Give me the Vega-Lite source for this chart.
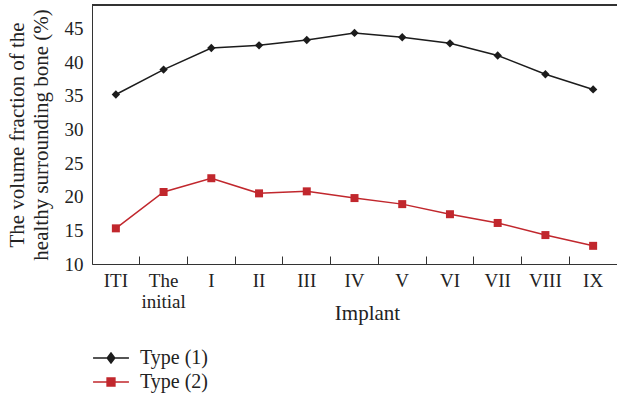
{
  "$schema": "https://vega.github.io/schema/vega-lite/v6.json",
  "width": 525,
  "height": 259,
  "autosize": {"type": "none"},
  "padding": {"left": 92, "top": 5, "right": 0, "bottom": 136},
  "background": "white",
  "config": {
    "view": {"stroke": null},
    "font": "Liberation Serif",
    "axis": {"labelFont": "Liberation Serif", "titleFont": "Liberation Serif", "labelColor": "#222", "titleColor": "#222", "labelFontSize": 19, "titleFontSize": 21, "titleFontWeight": "normal", "domainColor": "#333", "tickColor": "#333", "grid": false},
    "legend": {"labelFont": "Liberation Serif", "labelFontSize": 20, "labelColor": "#222"}
  },
  "data": {"values": [
    {"implant": "ITI", "series": "Type (1)", "value": 35.2},
    {"implant": "The initial", "series": "Type (1)", "value": 38.9},
    {"implant": "I", "series": "Type (1)", "value": 42.1},
    {"implant": "II", "series": "Type (1)", "value": 42.5},
    {"implant": "III", "series": "Type (1)", "value": 43.3},
    {"implant": "IV", "series": "Type (1)", "value": 44.35},
    {"implant": "V", "series": "Type (1)", "value": 43.7},
    {"implant": "VI", "series": "Type (1)", "value": 42.8},
    {"implant": "VII", "series": "Type (1)", "value": 41.0},
    {"implant": "VIII", "series": "Type (1)", "value": 38.2},
    {"implant": "IX", "series": "Type (1)", "value": 35.95},
    {"implant": "ITI", "series": "Type (2)", "value": 15.3},
    {"implant": "The initial", "series": "Type (2)", "value": 20.7},
    {"implant": "I", "series": "Type (2)", "value": 22.75},
    {"implant": "II", "series": "Type (2)", "value": 20.5},
    {"implant": "III", "series": "Type (2)", "value": 20.8},
    {"implant": "IV", "series": "Type (2)", "value": 19.8},
    {"implant": "V", "series": "Type (2)", "value": 18.9},
    {"implant": "VI", "series": "Type (2)", "value": 17.4},
    {"implant": "VII", "series": "Type (2)", "value": 16.1},
    {"implant": "VIII", "series": "Type (2)", "value": 14.3},
    {"implant": "IX", "series": "Type (2)", "value": 12.7}
  ]},
  "encoding": {
    "x": {"field": "implant", "type": "nominal", "sort": null,
      "scale": {"type": "band", "paddingInner": 0, "paddingOuter": 0},
      "axis": {"title": "Implant", "labelAngle": 0, "tickSize": -8, "labelPadding": 15, "bandPosition": 0,
        "titleY": 55, "titleX": 275, "titleBaseline": "alphabetic",
        "labelExpr": "datum.label == 'The initial' ? ['The', 'initial'] : datum.label", "labelLineHeight": 21, "labelBaseline": "top"}},
    "y": {"field": "value", "type": "quantitative",
      "scale": {"domain": [10, 48.5], "nice": false, "zero": false},
      "axis": {"title": ["The volume fraction of the", "healthy surrounding bone (%)"], "values": [10, 15, 20, 25, 30, 35, 40, 45], "ticks": false, "labelPadding": 9, "titlePadding": 13, "titleLineHeight": 24}},
    "color": {"field": "series", "type": "nominal",
      "scale": {"domain": ["Type (1)", "Type (2)"], "range": ["#1c1c1c", "#c1272d"]},
      "legend": {"title": null, "orient": "none", "legendX": 5, "legendY": 339, "rowPadding": 0, "labelOffset": 15, "symbolSize": 676,
        "encode": {"symbols": {"update": {
          "shape": {"signal": "datum.value === 'Type (1)' ? 'M-1.38,0H1.38M0,-0.38L0.29,0L0,0.38L-0.29,0Z' : 'M-1.38,0H1.38M-0.3,-0.3H0.3V0.3H-0.3Z'"},
          "fill": {"signal": "datum.value === 'Type (1)' ? '#1c1c1c' : '#c1272d'"},
          "stroke": {"signal": "datum.value === 'Type (1)' ? '#1c1c1c' : '#c1272d'"},
          "strokeWidth": {"value": 1.5},
          "opacity": {"value": 1}
        }}}}
    }
  },
  "layer": [
    {"mark": {"type": "rule", "color": "#333", "strokeWidth": 1}, "encoding": {"y": {"datum": 48.5}, "x": null, "color": null}},
    {"mark": {"type": "line", "strokeWidth": 1.5}},
    {"transform": [{"filter": "datum.series === 'Type (1)'"}],
      "mark": {"type": "point", "filled": true, "opacity": 1, "size": 70, "shape": "diamond"}},
    {"transform": [{"filter": "datum.series === 'Type (2)'"}],
      "mark": {"type": "point", "filled": true, "opacity": 1, "size": 64, "shape": "square"}}
  ]
}
